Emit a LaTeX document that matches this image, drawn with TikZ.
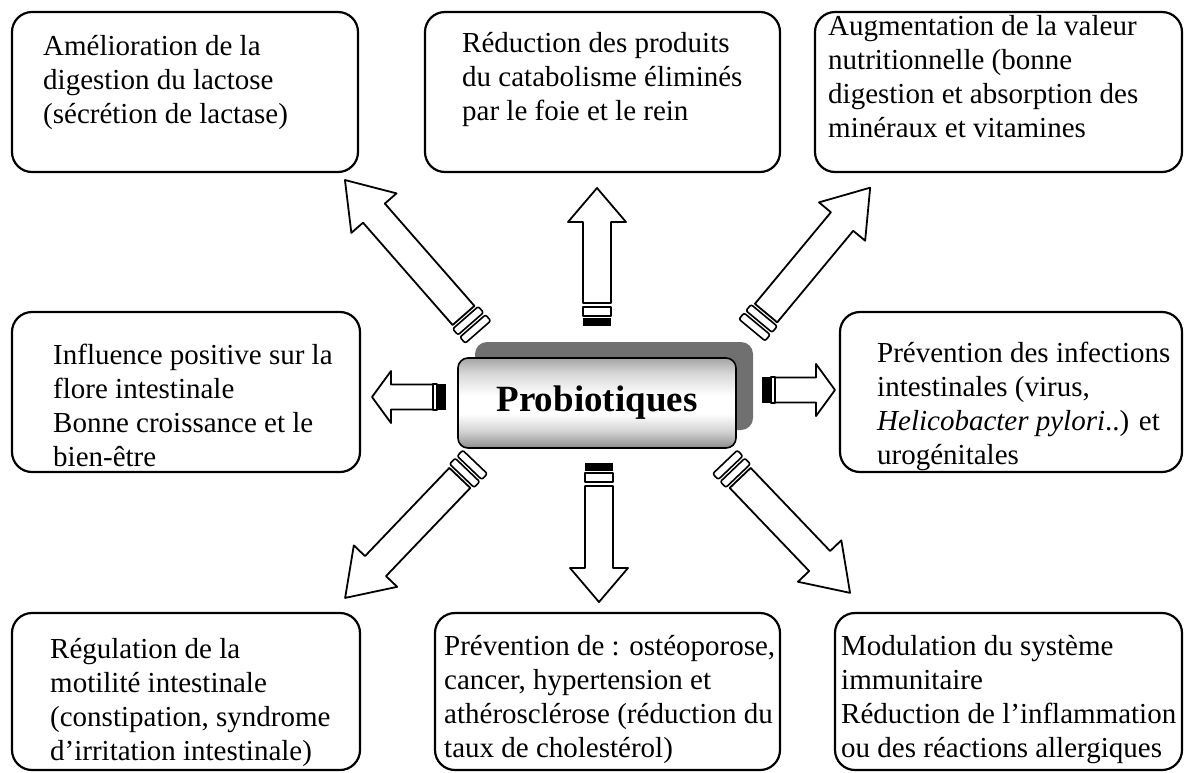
\documentclass[tikz,border=0pt]{standalone}
\usepackage{fontspec}
\setmainfont{Liberation Serif}
\newcommand\boxlines[1]{\begin{tabular}[t]{@{}l@{}}#1\end{tabular}}
\pgfdeclareverticalshading{metal}{100bp}{%
  color(0bp)=(black!45); color(25bp)=(black!45); color(34bp)=(black!18);
  color(44bp)=(white); color(54bp)=(white); color(66bp)=(black!15);
  color(75bp)=(black!35); color(100bp)=(black!35)}
\tikzset{
  box/.style={draw, line width=2.2pt, rounded corners=20pt, inner sep=0pt},
  txt/.style={anchor=base west, inner sep=0pt, font=\fontsize{29}{34}\selectfont},
  arr/.style={draw=black, fill=white, line width=1.8pt, line join=round},
  cshadow/.style={fill={rgb,255:red,112;green,112;blue,112}, rounded corners=12pt, inner sep=0pt},
  cbox/.style={draw=black, line width=1.6pt, rounded corners=10pt, inner sep=0pt,
    shading=metal, font=\fontsize{37}{40}\selectfont\bfseries},
}
% vertical-type arrow: band + shaft + head
\newcommand\vpen[3]{%
\begin{scope}[shift={(#1)}, rotate=#2]
 \fill (0,-14) rectangle (8,14);
 \draw[arr, line width=1.4pt] (10,-14) rectangle (19,14);
 \draw[arr] (23,-14) -- ({#3-34},-14) -- ({#3-34},-29) -- (#3,0) -- ({#3-34},29) -- ({#3-34},14) -- (23,14) -- cycle;
\end{scope}}
% horizontal-type short arrow
\newcommand\hpen[3]{%
\begin{scope}[shift={(#1)}, rotate=#2]
 \fill (0,-13) rectangle (9,13);
 \draw[arr, line width=1.4pt] (9,-13) rectangle (13,13);
 \draw[arr] (13,-12.5) -- ({#3-19},-12.5) -- ({#3-19},-26) -- (#3,0) -- ({#3-19},26) -- ({#3-19},12.5) -- (13,12.5) -- cycle;
\end{scope}}
% diagonal arrow with two rings
\newcommand\dpen[3]{%
\begin{scope}[shift={(#1)}, rotate=#2]
 \draw[arr, line width=1.6pt, rounded corners=2pt] (0,-17) rectangle (8,17);
 \draw[arr, line width=1.6pt, rounded corners=2pt] (11,-17) rectangle (19,17);
 \draw[arr] (22,-14.5) -- ({#3-44},-14.5) -- ({#3-44},-30) -- (#3,0) -- ({#3-44},30) -- ({#3-44},14.5) -- (22,14.5) -- cycle;
\end{scope}}
\begin{document}
\begin{tikzpicture}[x=1pt,y=-1pt]
\useasboundingbox (0,0) rectangle (1192,772);

% boxes
\node[box, minimum width=346pt, minimum height=160pt] (bTL) at (185,92) {};
\node[box, minimum width=355pt, minimum height=160pt] (bTC) at (602.5,92) {};
\node[box, minimum width=367pt, minimum height=160pt] (bTR) at (998.5,92) {};
\node[box, minimum width=348pt, minimum height=160pt] (bML) at (186,392) {};
\node[box, minimum width=342pt, minimum height=160pt] (bMR) at (1011,392) {};
\node[box, minimum width=348pt, minimum height=157pt] (bBL) at (186,691.5) {};
\node[box, minimum width=345pt, minimum height=157pt] (bBC) at (607.5,691.5) {};
\node[box, minimum width=347pt, minimum height=157pt] (bBR) at (1008.5,691.5) {};

% texts
\node[txt] (xTL) at (43,55) {\boxlines{Amélioration de la\\digestion du lactose\\(sécrétion de lactase)}};
\node[txt] (xTC) at (462,52) {\boxlines{Réduction des produits\\du catabolisme éliminés\\par le foie et le rein}};
\node[txt] (xTR) at (828,35) {\boxlines{Augmentation de la valeur\\nutritionnelle (bonne\\digestion et absorption des\\minéraux et vitamines}};
\node[txt] (xML) at (53,364) {\boxlines{Influence positive sur la\\flore intestinale\\Bonne croissance et le\\bien-être}};
\node[txt] (xMR) at (877,362) {\boxlines{Prévention des infections\\intestinales (virus,\\\textit{Helicobacter pylori}..) et\\urogénitales}};
\node[txt] (xBL) at (50,658) {\boxlines{Régulation de la\\motilité intestinale\\(constipation, syndrome\\d’irritation intestinale)}};
\node[txt] (xBC) at (444,655) {\boxlines{Prévention de : ostéoporose,\\cancer, hypertension et\\athérosclérose (réduction du\\taux de cholestérol)}};
\node[txt] (xBR) at (841,655) {\boxlines{Modulation du système\\immunitaire\\Réduction de l’inflammation\\ou des réactions allergiques}};

% central box
\node[cshadow, minimum width=278pt, minimum height=88pt] (shadow) at (614,386) {};
\node[cbox, minimum width=278pt, minimum height=90pt] (core) at (597,403) {Probiotiques};

% arrow tails
\coordinate (tTC) at (597,326);
\coordinate (tBC) at (599,463);
\coordinate (tML) at (446,397);
\coordinate (tMR) at (762,390);
\coordinate (tTL) at (478,332);
\coordinate (tTR) at (752,330);
\coordinate (tBL) at (475,462);
\coordinate (tBR) at (725,462);

\vpen{tTC}{90}{138}
\vpen{tBC}{-90}{139}
\hpen{tML}{180}{74}
\hpen{tMR}{0}{73}
\dpen{tTL}{131.2}{202}
\dpen{tTR}{50.3}{185}
\dpen{tBL}{-133.7}{188}
\dpen{tBR}{-46.3}{181}
\end{tikzpicture}
\end{document}
